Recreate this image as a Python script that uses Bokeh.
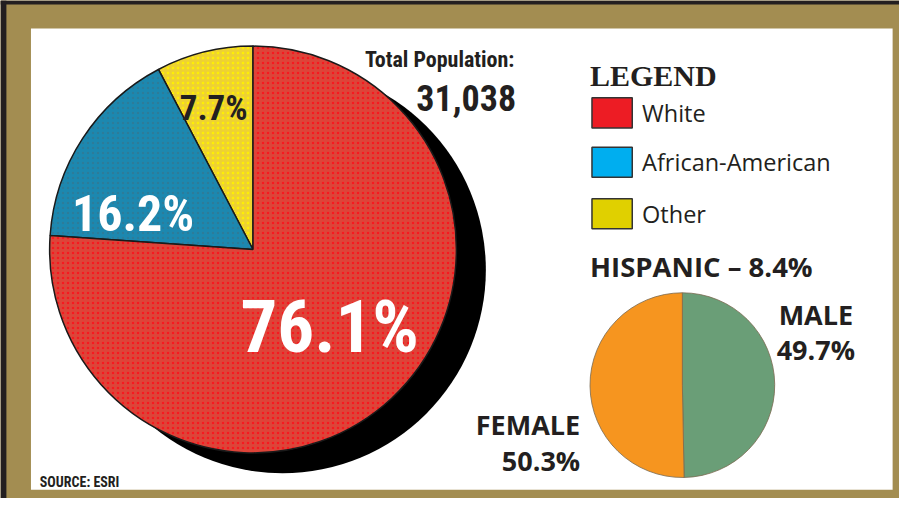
import numpy as np
from bokeh.plotting import figure
from bokeh.models import Range1d, ColumnDataSource
from bokeh.core.properties import value
from bokeh.embed import file_html
from bokeh.resources import INLINE

# ---------------- data ----------------
race_labels = ["Other", "African-American", "White"]
race_values = [7.7, 16.2, 76.1]
race_colors = ["#eed232", "#1c88b0", "#dd4439"]
race_dots = ["#fff200", "#2d7a98", "#f8141c"]
legend_labels = ["White", "African-American", "Other"]
legend_colors = ["#ed1c24", "#00aeef", "#e0d000"]
gender_labels = ["MALE", "FEMALE"]
gender_values = [49.7, 50.3]
gender_colors = ["#6a9e77", "#f6951f"]
total_population = "31,038"
hispanic_pct = 8.4
source_text = "SOURCE: ESRI"

# ---------------- layout helpers ----------------
H = 514
def Y(sy):
    return H - sy

COND = value("Roboto Condensed")
SANS = value("Open Sans")
SERIF = value("Liberation Serif")

p = figure(width=899, height=498, x_range=Range1d(0, 915), y_range=Range1d(0, 514),
           output_backend="svg", toolbar_location=None, min_border=0)
p.axis.visible = False
p.grid.visible = False
p.outline_line_color = None
p.background_fill_color = "#a38d51"
p.border_fill_color = "#a38d51"

# dark strips + white panel
p.quad(left=[0, 0], right=[915, 6], bottom=[Y(4), 0], top=[514, 514],
       fill_color="#231f20", line_color=None)
p.quad(left=[31], right=[908], bottom=[Y(505)], top=[Y(29)], fill_color="white", line_color=None)

# ---------------- big pie ----------------
cx, cy, r = 257, Y(257), 207
p.circle(x=[cx + 30], y=[cy - 21], radius=r, fill_color="black", line_color=None)

fr = np.array(race_values) / 100.0 * 2 * np.pi
cum = np.concatenate([[0], np.cumsum(fr)])
race_src = ColumnDataSource(dict(
    start=np.pi / 2 + cum[:-1], end=np.pi / 2 + cum[1:],
    color=race_colors, dots=race_dots, label=race_labels))
p.wedge(x=cx, y=cy, radius=r, start_angle="start", end_angle="end", direction="anticlock",
        fill_color="color", line_color="#1a1a1a", line_width=1.5,
        hatch_pattern=".", hatch_color="dots", hatch_scale=5, hatch_weight=1.8, hatch_alpha=0.9,
        source=race_src)

# slice labels
p.text(x=[335], y=[Y(337)], text=[f"{race_values[2]}%"], text_color="white",
       text_font=COND, text_font_style="bold", text_font_size="73px",
       text_align="center", text_baseline="alphabetic")
p.text(x=[135], y=[Y(220)], text=[f"{race_values[1]}%"], text_color="white",
       text_font=COND, text_font_style="bold", text_font_size="50px",
       text_align="center", text_baseline="alphabetic")
p.text(x=[217], y=[Y(111)], text=[f"{race_values[0]}%"], text_color="#231f20",
       text_font=COND, text_font_style="bold", text_font_size="35px",
       text_align="center", text_baseline="alphabetic")

# total population
p.text(x=[447], y=[Y(61)], text=["Total Population:"], text_color="#231f20",
       text_font=COND, text_font_style="bold", text_font_size="22px",
       text_align="center", text_baseline="alphabetic")
p.text(x=[474], y=[Y(101)], text=[total_population], text_color="#231f20",
       text_font=COND, text_font_style="bold", text_font_size="36px",
       text_align="center", text_baseline="alphabetic")

# source
p.text(x=[40], y=[Y(497)], text=[source_text], text_color="#231f20",
       text_font=COND, text_font_style="bold", text_font_size="14px",
       text_align="left", text_baseline="alphabetic")

# ---------------- legend ----------------
p.text(x=[600], y=[Y(77)], text=["LEGEND"], text_color="#231f20",
       text_font=SERIF, text_font_style="bold", text_font_size="30px",
       text_align="left", text_baseline="alphabetic")
leg_y = [Y(116), Y(167), Y(220)]
p.rect(x=[622.5] * 3, y=leg_y, width=41, height=31, fill_color=legend_colors,
       line_color="#333333", line_width=1.5)
p.text(x=[653] * 3, y=leg_y, text=legend_labels, text_color="#231f20",
       text_font=SANS, text_font_size="23.5px", text_align="left", text_baseline="middle")

p.text(x=[600], y=[Y(275)], text=[f"HISPANIC \u2013 {hispanic_pct}%"], text_color="#231f20",
       text_font=SANS, text_font_style="bold", text_font_size="27.5px",
       text_align="left", text_baseline="alphabetic")

# ---------------- gender pie ----------------
gx, gy, gr = 694, Y(397), 94
gf = np.array(gender_values) / 100.0 * 2 * np.pi
gcum = np.concatenate([[0], np.cumsum(gf)])
g_src = ColumnDataSource(dict(start=np.pi / 2 - gcum[:-1], end=np.pi / 2 - gcum[1:],
                              color=gender_colors, label=gender_labels))
p.wedge(x=gx, y=gy, radius=gr, start_angle="start", end_angle="end", direction="clock",
        fill_color="color", line_color="#7a6a50", line_width=0.8, source=g_src)

p.text(x=[792, 790], y=[Y(324), Y(360)], text=[gender_labels[0], f"{gender_values[0]}%"],
       text_color="#231f20", text_font=SANS, text_font_style="bold", text_font_size="27px",
       text_align="left", text_baseline="alphabetic")
p.text(x=[590, 590], y=[Y(438), Y(475)], text=[gender_labels[1], f"{gender_values[1]}%"],
       text_color="#231f20", text_font=SANS, text_font_style="bold", text_font_size="27px",
       text_align="right", text_baseline="alphabetic")

open("out.html", "w").write(file_html(p, INLINE))
